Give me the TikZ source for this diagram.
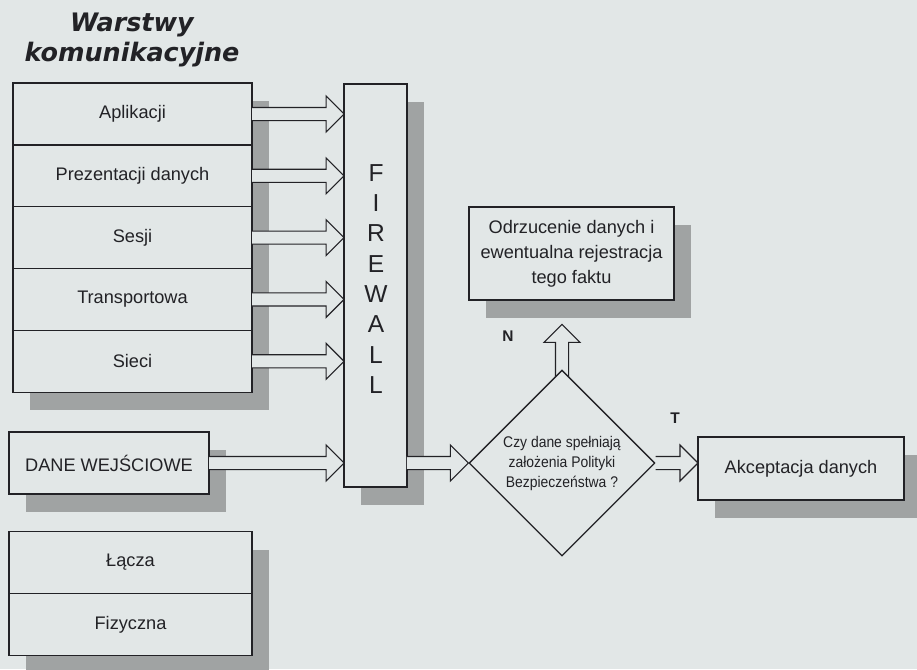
\documentclass[tikz,border=0pt]{standalone}
\usepackage{fontspec}
\setmainfont{Liberation Sans}
\newfontfamily\titlefont{DejaVu Sans}
\newfontfamily\narrowfont{Liberation Sans}[FakeStretch=0.9]
\usetikzlibrary{positioning,shapes.geometric,shadows,calc}
\definecolor{paper}{RGB}{226,231,231}
\definecolor{shadowgray}{RGB}{160,163,163}
\definecolor{ink}{RGB}{34,34,38}
\pgfdeclarelayer{under}
\pgfsetlayers{under,main}
\tikzset{%
  box/.style = {shape=rectangle, draw=ink, line width=0.75pt, fill=paper,
    text=ink, inner sep=0pt, outer sep=0pt, align=center,
    font=\fontsize{10}{13.75}\selectfont},
  shadowed/.style = {drop shadow={shadow xshift=9.4pt, shadow yshift=-9.9pt,
    fill=shadowgray, opacity=1}},
  layer/.style = {box, shadowed, minimum width=131.5pt, minimum height=34pt},
  decision/.style = {shape=diamond, aspect=1, draw=ink, line width=0.75pt,
    fill=paper, text=ink, inner sep=0pt, minimum size=102.3pt, align=center,
    font=\narrowfont\fontsize{8.5}{11}\selectfont},
  heading/.style = {text=ink, align=center,
    font=\titlefont\bfseries\itshape\fontsize{14}{16.5}\selectfont},
  wall/.style = {text=ink, align=center, font=\fontsize{13.5}{16.7}\selectfont},
  tag/.style = {text=ink, font=\bfseries\fontsize{8.5}{10}\selectfont},
  fatarrow/.style = {draw=ink, line width=0.6pt, fill=paper, line join=miter}
}
\newcommand{\blockarrow}[2]{%
  \filldraw[fatarrow] let \p1=#1, \p2=#2,
    \n1={atan2(\y2-\y1,\x2-\x1)}, \n2={veclen(\x2-\x1,\y2-\y1)} in
    [shift={(\p1)}, rotate=\n1]
    (0pt,-3.6pt) -- ({\n2-9.9pt},-3.6pt) -- ({\n2-9.9pt},-9.9pt) -- (\n2,0pt)
    -- ({\n2-9.9pt},9.9pt) -- ({\n2-9.9pt},3.6pt) -- (0pt,3.6pt);}

\begin{document}
\begin{tikzpicture}[x=0.55pt, y=-0.55pt]
  \useasboundingbox (0,0) rectangle (917,669);
  \begin{pgfonlayer}{under}
    \fill[paper] (0,0) rectangle (917,669);
  \end{pgfonlayer}
  \node[heading] (title) at (132,40) {Warstwy\\komunikacyjne};
  % warstwy
  \node[layer] (apl) at (132.5,114) {Aplikacji};
  \node[layer, below=0pt of apl] (pre) {Prezentacji danych};
  \node[layer, below=0pt of pre] (ses) {Sesji};
  \node[layer, below=0pt of ses] (tra) {Transportowa};
  \node[layer, below=0pt of tra] (sie) {Sieci};
  \node[layer, minimum width=110pt] (dane) at (109,463) {DANE WEJŚCIOWE};
  \node[layer, minimum width=133.6pt] (lac) at (130.5,562.5) {Łącza};
  \node[layer, minimum width=133.6pt, below=0pt of lac] (fiz) {Fizyczna};
  % firewall i decyzja
  \node[box, shadowed, minimum width=34.6pt, minimum height=221.6pt] (fw) at (375.5,285.5) {};
  \node[wall] (fwtxt) at (376,279) {F\\I\\R\\E\\W\\A\\L\\L};
  \node[box, shadowed, minimum width=112.8pt, minimum height=51.2pt] (odrz) at (571.5,253.5)
    {Odrzucenie danych i\\ewentualna rejestracja\\tego faktu};
  \node[layer, minimum width=113.3pt, minimum height=34.6pt] (akc) at (801,468.5) {Akceptacja danych};
  \node[decision] (dec) at (562,463) {Czy dane spełniają\\założenia Polityki\\Bezpieczeństwa ?};
  \node[tag] (nlab) at (508,336) {N};
  \node[tag] (tlab) at (675,418) {T};
  % strzalki
  \foreach \w in {apl,pre,ses,tra,sie,dane}
    {\blockarrow{(\w.east)}{(fw.west |- \w.east)}}
  \blockarrow{(fw.east |- dec.west)}{(dec.west)}
  \blockarrow{(dec.east)}{(akc.west |- dec.east)}
  \coordinate[above=24.75pt of dec.north] (ntip);
  \begin{pgfonlayer}{under}
    \blockarrow{($(dec.north)+(0,12)$)}{(ntip)}
  \end{pgfonlayer}
\end{tikzpicture}
\end{document}
